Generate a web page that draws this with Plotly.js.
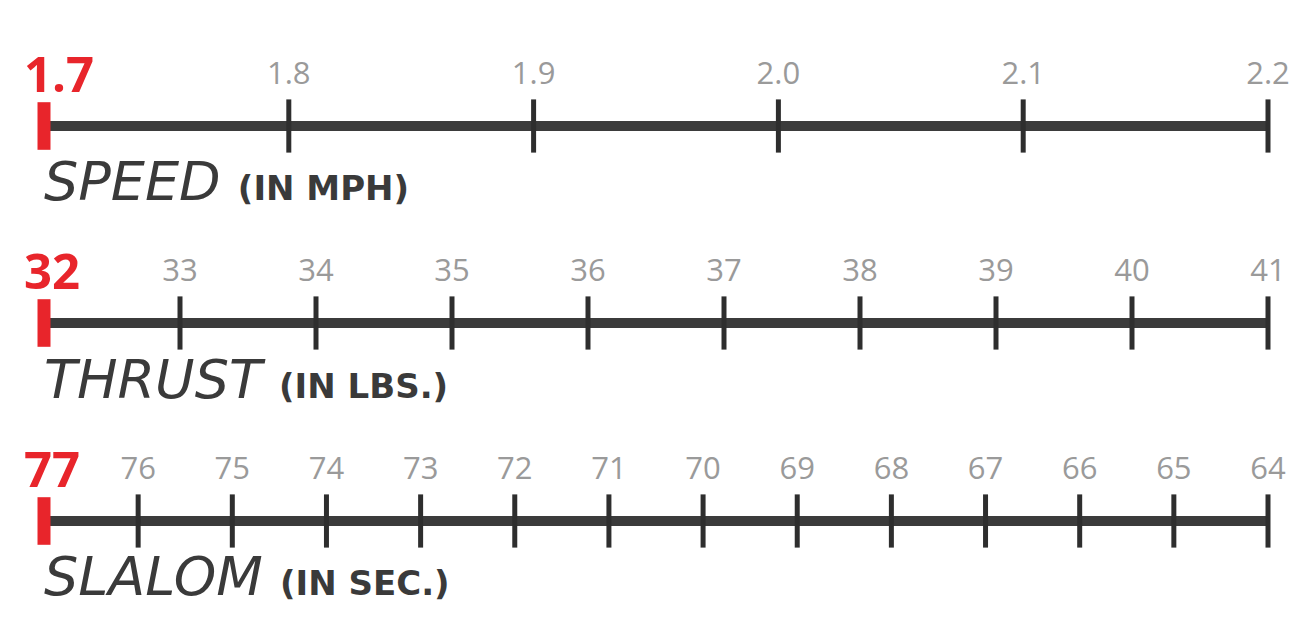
<!DOCTYPE html>
<html><head><meta charset="utf-8">
<script src="https://cdn.plot.ly/plotly-3.0.1.min.js"></script>
<style>html,body{margin:0;padding:0;background:#fff}#chart{width:1310px;height:634px}</style>
</head><body><div id="chart"></div>
<script>
// ---- data ----
const speedTicks  = [1.7, 1.8, 1.9, 2.0, 2.1, 2.2];
const speedLabels = ['1.7', '1.8', '1.9', '2.0', '2.1', '2.2'];
const thrustTicks  = [32, 33, 34, 35, 36, 37, 38, 39, 40, 41];
const thrustLabels = ['32', '33', '34', '35', '36', '37', '38', '39', '40', '41'];
const slalomTicks  = [77, 76, 75, 74, 73, 72, 71, 70, 69, 68, 67, 66, 65, 64];
const slalomLabels = ['77', '76', '75', '74', '73', '72', '71', '70', '69', '68', '67', '66', '65', '64'];
const scaleNames = ['SPEED', 'THRUST', 'SLALOM'];
const scaleUnits = ['(IN MPH)', '(IN LBS.)', '(IN SEC.)'];

// ---- layout constants ----
const W = 1310, H = 634;
const FONT = '"Open Sans", "Noto Sans", sans-serif';
const TITLE_FONT = '"DejaVu Sans", "Open Sans", sans-serif';
const RED = '#e8252b';
const LINE = '#3b3b3b';
const rows = [
  {ticks: speedTicks,  labels: speedLabels,  lineY: 126, titleY: 181},
  {ticks: thrustTicks, labels: thrustLabels, lineY: 323, titleY: 379},
  {ticks: slalomTicks, labels: slalomLabels, lineY: 521, titleY: 576}
];
const HALF = 35;

const traces = [];
const layout = {
  width: W, height: H,
  margin: {l: 44, r: 42, t: 0, b: 0},
  paper_bgcolor: '#fff', plot_bgcolor: '#fff',
  showlegend: false,
  font: {family: FONT},
  annotations: []
};

rows.forEach((r, i) => {
  const s = i === 0 ? '' : String(i + 1);
  const xa = 'x' + s, ya = 'y' + s;
  const first = r.ticks[0], last = r.ticks[r.ticks.length - 1];
  // main line
  traces.push({x: [first, last], y: [0, 0], xaxis: xa, yaxis: ya, mode: 'lines',
    line: {color: LINE, width: 10}, hoverinfo: 'skip', cliponaxis: false});
  // tick marks
  traces.push({x: r.ticks.slice(1), y: r.ticks.slice(1).map(() => 0), xaxis: xa, yaxis: ya,
    mode: 'markers', cliponaxis: false, hoverinfo: 'skip',
    marker: {symbol: 'line-ns', size: 38, line: {color: '#2e2e2e', width: 5}}});
  // red start bar
  traces.push({x: [first], y: [0], xaxis: xa, yaxis: ya, mode: 'markers', cliponaxis: false,
    hoverinfo: 'skip', marker: {symbol: 'line-ns', size: 34, line: {color: RED, width: 13}}});

  const y0 = (H - r.lineY - HALF) / H, y1 = (H - r.lineY + HALF) / H;
  layout['xaxis' + s] = {
    domain: [0, 1], anchor: ya, side: 'top', range: [first, last],
    showgrid: false, zeroline: false, showline: false, ticks: '',
    tickmode: 'array', tickvals: r.ticks.slice(1), ticktext: r.labels.slice(1),
    tickfont: {family: FONT, size: 31, color: '#9a9a9a'}, fixedrange: true
  };
  layout['yaxis' + s] = {domain: [y0, y1], range: [-1, 1], visible: false, fixedrange: true};

  // red first value label
  layout.annotations.push({
    x: first, y: 0, xref: xa, yref: ya, xanchor: 'left', yanchor: 'middle',
    xshift: -22, yshift: 53, showarrow: false,
    text: '<b>' + r.labels[0] + '</b>', font: {family: FONT, size: 49, color: RED}
  });
  // scale title
  layout.annotations.push({
    x: 0, y: (H - r.titleY) / H, xref: 'paper', yref: 'paper', xanchor: 'left', yanchor: 'middle',
    xshift: -2, showarrow: false,
    text: '<i>' + scaleNames[i] + '</i> <b><span style="font-size:34px">' + scaleUnits[i] + '</span></b>',
    font: {family: TITLE_FONT, size: 54, color: '#3a3a3a'}
  });
});

Plotly.newPlot('chart', traces, layout, {displayModeBar: false, staticPlot: true});
</script>
</body></html>
